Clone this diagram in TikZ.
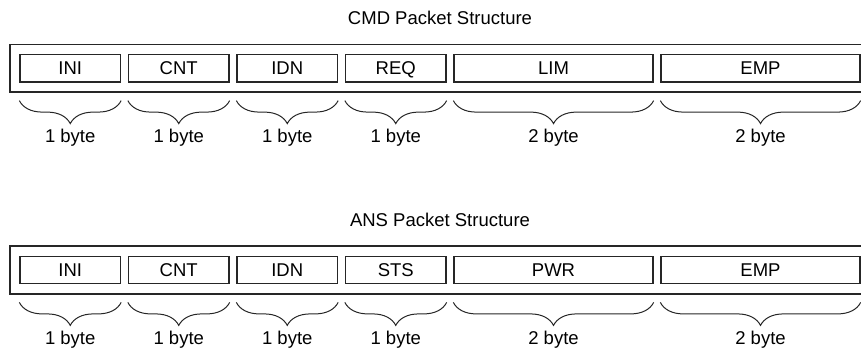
\documentclass[tikz,border=0pt]{standalone}
\usepackage{fontspec}
\setmainfont{Liberation Sans}
\usetikzlibrary{positioning,fit,decorations.pathreplacing}

\tikzset{
	fld/.style={draw=black!85, line width=1.3pt, minimum height=27.5pt, inner sep=0pt, text height=13.3pt, text depth=0pt, font=\fontsize{18.5}{22}\selectfont},
	frm/.style={draw=black!85, line width=1.5pt, inner sep=9.5pt},
	brc/.style={draw=black!85, line width=1pt, decorate, decoration={brace, mirror, amplitude=23pt}},
	lbl/.style={anchor=base, font=\fontsize{18.5}{22}\selectfont},
	ttl/.style={anchor=base, font=\fontsize{18.5}{22}\selectfont}
}

\begin{document}
\begin{tikzpicture}[x=1pt, y=-1pt]
			\useasboundingbox (0,0) rectangle (861,349);
			\clip (0,0) rectangle (861,349);
			\node[ttl] (title1) at (440,24.3) {CMD Packet Structure};
			\node[fld, minimum width=100.5pt] (ini1) at (70.25,68.2) {INI};
			\node[fld, minimum width=100.5pt, right=6.7pt of ini1] (cnt1) {CNT};
			\node[fld, minimum width=100.5pt, right=6.7pt of cnt1] (idn1) {IDN};
			\node[fld, minimum width=100.5pt, right=6.7pt of idn1] (req1) {REQ};
			\node[fld, minimum width=199pt, right=6.7pt of req1] (lim1) {LIM};
			\node[fld, minimum width=199pt, right=6.7pt of lim1] (emp1) {EMP};
			\node[frm, fit=(ini1) (emp1)] (frame1) {};
			\draw[brc] ([yshift=-18pt]ini1.south west) -- ([yshift=-18pt]ini1.south east);
			\draw[brc] ([yshift=-18pt]cnt1.south west) -- ([yshift=-18pt]cnt1.south east);
			\draw[brc] ([yshift=-18pt]idn1.south west) -- ([yshift=-18pt]idn1.south east);
			\draw[brc] ([yshift=-18pt]req1.south west) -- ([yshift=-18pt]req1.south east);
			\draw[brc] ([yshift=-18pt]lim1.south west) -- ([yshift=-18pt]lim1.south east);
			\draw[brc] ([yshift=-18pt]emp1.south west) -- ([yshift=-18pt]emp1.south east);
			\node[lbl] (ini1b) at ([yshift=-60pt]ini1.south) {1 byte};
			\node[lbl] (cnt1b) at ([yshift=-60pt]cnt1.south) {1 byte};
			\node[lbl] (idn1b) at ([yshift=-60pt]idn1.south) {1 byte};
			\node[lbl] (req1b) at ([yshift=-60pt]req1.south) {1 byte};
			\node[lbl] (lim1b) at ([yshift=-60pt]lim1.south) {2 byte};
			\node[lbl] (emp1b) at ([yshift=-60pt]emp1.south) {2 byte};
			\node[ttl] (title2) at (440,226) {ANS Packet Structure};
			\node[fld, minimum width=100.5pt] (ini2) at (70.25,270) {INI};
			\node[fld, minimum width=100.5pt, right=6.7pt of ini2] (cnt2) {CNT};
			\node[fld, minimum width=100.5pt, right=6.7pt of cnt2] (idn2) {IDN};
			\node[fld, minimum width=100.5pt, right=6.7pt of idn2] (sts2) {STS};
			\node[fld, minimum width=199pt, right=6.7pt of sts2] (pwr2) {PWR};
			\node[fld, minimum width=199pt, right=6.7pt of pwr2] (emp2) {EMP};
			\node[frm, fit=(ini2) (emp2)] (frame2) {};
			\draw[brc] ([yshift=-18pt]ini2.south west) -- ([yshift=-18pt]ini2.south east);
			\draw[brc] ([yshift=-18pt]cnt2.south west) -- ([yshift=-18pt]cnt2.south east);
			\draw[brc] ([yshift=-18pt]idn2.south west) -- ([yshift=-18pt]idn2.south east);
			\draw[brc] ([yshift=-18pt]sts2.south west) -- ([yshift=-18pt]sts2.south east);
			\draw[brc] ([yshift=-18pt]pwr2.south west) -- ([yshift=-18pt]pwr2.south east);
			\draw[brc] ([yshift=-18pt]emp2.south west) -- ([yshift=-18pt]emp2.south east);
			\node[lbl] (ini2b) at ([yshift=-60pt]ini2.south) {1 byte};
			\node[lbl] (cnt2b) at ([yshift=-60pt]cnt2.south) {1 byte};
			\node[lbl] (idn2b) at ([yshift=-60pt]idn2.south) {1 byte};
			\node[lbl] (sts2b) at ([yshift=-60pt]sts2.south) {1 byte};
			\node[lbl] (pwr2b) at ([yshift=-60pt]pwr2.south) {2 byte};
			\node[lbl] (emp2b) at ([yshift=-60pt]emp2.south) {2 byte};
		\end{tikzpicture}
\end{document}
